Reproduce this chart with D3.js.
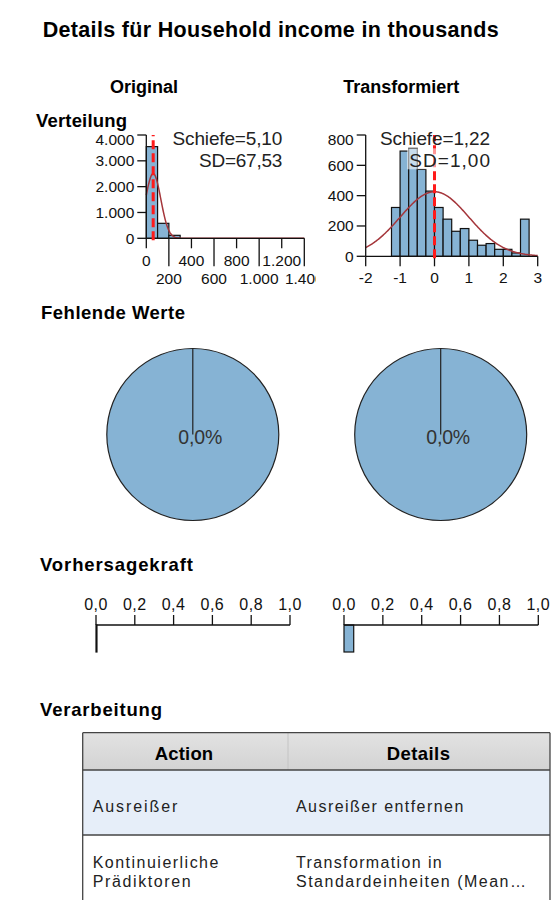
<!DOCTYPE html>
<html>
<head>
<meta charset="utf-8">
<script src="https://cdn.jsdelivr.net/npm/d3@7"></script>
<style>
  body { margin: 0; background: #ffffff; }
  svg { display: block; }
  text { font-family: "Liberation Sans", Arial, Helvetica, sans-serif; }
</style>
</head>
<body>
<div id="chart"></div>
<script>
// ---------- data ----------
const panelTitles = ["Original", "Transformiert"];

// distribution of the original variable (bins of 100)
const origBinEdges = [0, 100, 200, 300];
const origCounts = [3550, 580, 115];
const origXTicks = [0, 200, 400, 600, 800, 1000, 1200, 1400];
const origYTicks = [0, 1000, 2000, 3000, 4000];

// distribution of the transformed variable (bins of 0.25)
const transBinEdges = [-1.25, -1, -0.75, -0.5, -0.25, 0, 0.25, 0.5, 0.75, 1,
                       1.25, 1.5, 1.75, 2, 2.25, 2.5, 2.75];
const transCounts = [322, 694, 712, 573, 430, 322, 245, 165, 183, 106,
                     73, 84, 46, 46, 22, 245];
const transXTicks = [-2, -1, 0, 1, 2, 3];
const transYTicks = [0, 200, 400, 600, 800];

// summary statistics per panel
const statMean = [61, 0];
const statSD = [67.53, 1.00];
const statSkew = [5.10, 1.22];

// missing values share (%) per panel
const missingPct = [0.0, 0.0];

// predictive power per panel
const predictivePower = [0.005, 0.05];
const powerTicks = [0, 0.2, 0.4, 0.6, 0.8, 1.0];

// processing table
const tableColumns = ["Action", "Details"];
const tableActions = [["Ausreißer"], ["Kontinuierliche", "Prädiktoren"]];
const tableDetails = [["Ausreißer entfernen"], ["Transformation in", "Standardeinheiten (Mean…"]];

// ---------- helpers ----------
const de = d3.formatLocale({decimal: ",", thousands: ".", grouping: [3], currency: ["", " €"], minus: "-"});
const fInt = de.format(",.0f");
const f1 = de.format(".1f");
const f2 = de.format(".2f");

const BAR_FILL = "#86b3d4";
const INK = "#111111";

const svg = d3.select("#chart").append("svg")
  .attr("width", 559).attr("height", 900);

function txt(g, x, y, s, o = {}) {
  const t = g.append("text")
    .attr("x", x).attr("y", y).text(s)
    .attr("font-size", o.size || 15)
    .attr("font-weight", o.weight || "normal")
    .attr("text-anchor", o.anchor || "start")
    .attr("fill", o.fill || "#111");
  if (o.width) t.attr("textLength", o.width).attr("lengthAdjust", "spacing");
  if (o.ls) t.attr("letter-spacing", o.ls);
  return t;
}

// ---------- headings ----------
txt(svg, 42.7, 37.3, "Details für Household income in thousands", {size: 21.5, weight: "bold", width: 456, fill: "#000"});
txt(svg, 144, 92.7, panelTitles[0], {size: 18, weight: "bold", anchor: "middle", width: 68, fill: "#000"});
txt(svg, 401.3, 92.7, panelTitles[1], {size: 18, weight: "bold", anchor: "middle", width: 116, fill: "#000"});
txt(svg, 36, 126.7, "Verteilung", {size: 18.5, weight: "bold", width: 91, fill: "#000"});
txt(svg, 41, 319.3, "Fehlende Werte", {size: 18.5, weight: "bold", width: 144, fill: "#000"});
txt(svg, 40, 570.7, "Vorhersagekraft", {size: 18.5, weight: "bold", width: 153, fill: "#000"});
txt(svg, 40, 716, "Verarbeitung", {size: 18.5, weight: "bold", width: 122, fill: "#000"});

// ---------- histograms ----------
function histogram(g, cfg) {
  const {edges, counts, x, y, mean, sd, skew, xTicks, yTicks, stagger, statX, sdBox} = cfg;
  const y0 = y(0);
  const n = d3.sum(counts);
  const bw = edges[1] - edges[0];

  // bars
  g.append("g").selectAll("rect").data(counts).join("rect")
    .attr("x", (d, i) => x(edges[i]))
    .attr("width", (d, i) => x(edges[i + 1]) - x(edges[i]))
    .attr("y", d => y(d))
    .attr("height", d => y0 - y(d))
    .attr("fill", BAR_FILL)
    .attr("stroke", INK).attr("stroke-width", 1.2);

  // fitted normal curve
  const [d0, d1] = x.domain();
  const xs = d3.range(0, 201).map(k => d0 + (d1 - d0) * k / 200);
  const dens = v => n * bw * Math.exp(-0.5 * ((v - mean) / sd) ** 2) / (sd * Math.sqrt(2 * Math.PI));
  g.append("path")
    .attr("d", d3.line().x(v => x(v)).y(v => y(dens(v)))(xs))
    .attr("fill", "none").attr("stroke", "#a5363b").attr("stroke-width", 1.5);

  // axes
  const ax = g.append("g").attr("stroke", INK).attr("stroke-width", 1.3);
  ax.append("line").attr("x1", x(d0)).attr("x2", x(d1)).attr("y1", y0).attr("y2", y0);
  ax.append("line").attr("x1", x(d0)).attr("x2", x(d0)).attr("y1", y0).attr("y2", y(yTicks[yTicks.length - 1]));
  yTicks.forEach((t, i) => {
    ax.append("line").attr("x1", x(d0) - 9).attr("x2", x(d0)).attr("y1", y(t)).attr("y2", y(t));
    const top = i === yTicks.length - 1;
    txt(g, x(d0) - 12, y(t) + (top ? 10 : 5.5), fInt(t), {size: 15.5, anchor: "end"});
  });
  xTicks.forEach((t, i) => {
    const low = stagger && i % 2 === 1;
    ax.append("line").attr("x1", x(t)).attr("x2", x(t)).attr("y1", y0).attr("y2", y0 + (low ? 28 : 10));
    txt(g, x(t), low ? 283.5 : (stagger ? 265.5 : 283), fInt(t), {size: 15.5, anchor: "middle"});
  });

  // mean line
  g.append("line")
    .attr("x1", x(mean)).attr("x2", x(mean))
    .attr("y1", y0 + 2).attr("y2", y(yTicks[yTicks.length - 1]))
    .attr("stroke", "#ff1a1a").attr("stroke-width", 3).attr("stroke-dasharray", "9,4");

  // statistics labels
  if (sdBox) {
    g.append("rect").attr("x", sdBox[0]).attr("y", sdBox[1]).attr("width", sdBox[2]).attr("height", sdBox[3])
      .attr("fill", "#ffffff").attr("opacity", 0.55);
  }
  txt(g, statX, 145, "Schiefe=" + f2(skew), {size: 19, anchor: "end", width: cfg.skewW, fill: "#222"});
  txt(g, statX, 167, "SD=" + f2(sd), {size: 19, anchor: "end", width: cfg.sdW, fill: "#222"});
}

svg.append("clipPath").attr("id", "clipLeft")
  .append("rect").attr("x", 0).attr("y", 100).attr("width", 316).attr("height", 200);

histogram(svg.append("g").attr("clip-path", "url(#clipLeft)"), {
  edges: origBinEdges, counts: origCounts,
  x: d3.scaleLinear([0, 1400], [146.3, 304.3]),
  y: d3.scaleLinear([0, 4000], [238.3, 135]),
  mean: statMean[0], sd: statSD[0], skew: statSkew[0],
  xTicks: origXTicks, yTicks: origYTicks, stagger: true,
  statX: 282.3, skewW: 109.7, sdW: 83.3
});

histogram(svg.append("g"), {
  edges: transBinEdges, counts: transCounts,
  x: d3.scaleLinear([-2, 3], [365.7, 537.7]),
  y: d3.scaleLinear([0, 800], [256.3, 135]),
  mean: statMean[1], sd: statSD[1], skew: statSkew[1],
  xTicks: transXTicks, yTicks: transYTicks, stagger: false,
  statX: 490, skewW: 110, sdW: 80.7,
  sdBox: [407, 148.3, 84, 21]
});

// ---------- missing values pies ----------
const pieCx = [192.8, 440.7];
const pieCy = 434.5, pieR = 86;
const pie = d3.pie().sort(null);
const arc = d3.arc().innerRadius(0).outerRadius(pieR);
missingPct.forEach((m, i) => {
  const g = svg.append("g").attr("transform", `translate(${pieCx[i]},${pieCy})`);
  g.selectAll("path").data(pie([100 - m, m])).join("path")
    .attr("d", arc)
    .attr("fill", BAR_FILL)
    .attr("stroke", "#222").attr("stroke-width", 1.2);
  txt(g, 7.5, 9.5, f1(m) + "%", {size: 19.5, anchor: "middle", width: 44, fill: "#333"});
});

// ---------- predictive power ----------
const powerX = [d3.scaleLinear([0, 1], [96, 290]), d3.scaleLinear([0, 1], [344, 538.3])];
const powerY = 625;
predictivePower.forEach((p, i) => {
  const x = powerX[i];
  const g = svg.append("g");
  g.append("rect")
    .attr("x", x(0)).attr("y", powerY)
    .attr("width", x(p) - x(0)).attr("height", 27)
    .attr("fill", BAR_FILL).attr("stroke", INK).attr("stroke-width", 1.2);
  g.append("line").attr("x1", x(0)).attr("x2", x(1)).attr("y1", powerY).attr("y2", powerY)
    .attr("stroke", INK).attr("stroke-width", 1.3);
  powerTicks.forEach(t => {
    g.append("line").attr("x1", x(t)).attr("x2", x(t)).attr("y1", powerY - 10).attr("y2", powerY)
      .attr("stroke", INK).attr("stroke-width", 1.3);
    txt(g, x(t), 609.5, f1(t), {size: 16, anchor: "middle", ls: 0.5});
  });
});

// ---------- processing table ----------
const tL = 82.7, tR = 550, tTop = 732.7, hBot = 770, r1Bot = 835, colDiv = 288;
const defs = svg.append("defs");
const grad = defs.append("linearGradient").attr("id", "hdr").attr("x1", 0).attr("x2", 0).attr("y1", 0).attr("y2", 1);
grad.append("stop").attr("offset", "0%").attr("stop-color", "#e2e2e2");
grad.append("stop").attr("offset", "100%").attr("stop-color", "#d3d3d3");

const tg = svg.append("g");
tg.append("rect").attr("x", tL).attr("y", tTop).attr("width", tR - tL).attr("height", hBot - tTop).attr("fill", "url(#hdr)");
tg.append("rect").attr("x", tL).attr("y", hBot).attr("width", tR - tL).attr("height", r1Bot - hBot).attr("fill", "#e6eef9");
tg.append("rect").attr("x", tL).attr("y", r1Bot).attr("width", tR - tL).attr("height", 900 - r1Bot).attr("fill", "#ffffff");
tg.append("line").attr("x1", colDiv).attr("x2", colDiv).attr("y1", tTop).attr("y2", hBot)
  .attr("stroke", "#c4c4c4").attr("stroke-width", 1);
[tTop, hBot, r1Bot].forEach(yy => tg.append("line").attr("x1", tL).attr("x2", tR).attr("y1", yy).attr("y2", yy)
  .attr("stroke", "#444").attr("stroke-width", 1.3));
[tL, tR].forEach(xx => tg.append("line").attr("x1", xx).attr("x2", xx).attr("y1", tTop).attr("y2", 900)
  .attr("stroke", "#444").attr("stroke-width", 1.3));

txt(tg, 184, 760, tableColumns[0], {size: 18.5, weight: "bold", anchor: "middle", width: 58.3, fill: "#000"});
txt(tg, 418.3, 760, tableColumns[1], {size: 18.5, weight: "bold", anchor: "middle", width: 63.3, fill: "#000"});

// body rows: two-line cells sit on a tight 18px leading, so the body face stays at 16px
const actionW = [[84.7], [125.7, 98]];
const detailW = [[167.3], [145.7, 230]];
const rowBase = [[812.3], [868.3, 886.7]];
tableActions.forEach((lines, r) => {
  lines.forEach((s, k) => txt(tg, 92.7, rowBase[r][k], s, {size: 16, width: actionW[r][k], fill: "#222"}));
  tableDetails[r].forEach((s, k) => txt(tg, 296, rowBase[r][k], s, {size: 16, width: detailW[r][k], fill: "#222"}));
});
</script>
</body>
</html>
